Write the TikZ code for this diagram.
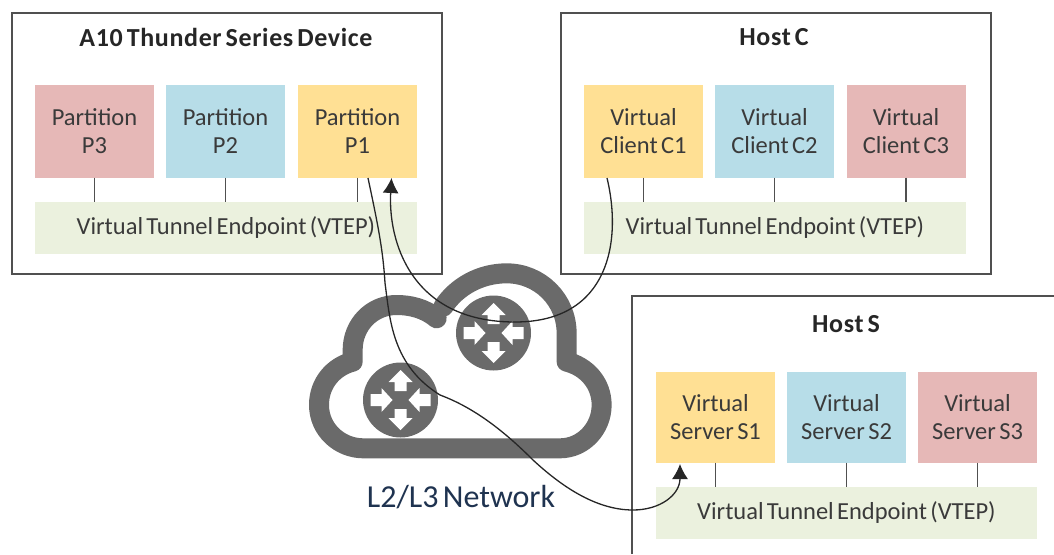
\documentclass[tikz,border=0pt]{standalone}
\usepackage{fontspec}
\usetikzlibrary{arrows.meta}
\setmainfont[WordSpace=0.6]{Carlito}
\definecolor{pinkbox}{HTML}{E6B8B7}
\definecolor{bluebox}{HTML}{B7DDE8}
\definecolor{yellowbox}{HTML}{FFE094}
\definecolor{greenbox}{HTML}{EBF1DE}
\definecolor{txt}{HTML}{3A3A3A}
\definecolor{netgray}{HTML}{6A6A6A}
\definecolor{nettxt}{HTML}{1F3350}
\definecolor{edgegray}{HTML}{505050}
\tikzset{
  tile/.style={minimum width=119pt,minimum height=93pt,inner sep=0pt,align=center,text=txt,font=\fontsize{24.5}{28}\selectfont},
  vtep/.style={minimum height=52pt,inner sep=0pt,text=txt,font=\fontsize{24.5}{28}\selectfont},
  hostbox/.style={draw=edgegray,line width=2pt,minimum width=430pt,minimum height=261pt,inner sep=0pt},
  hosttitle/.style={font=\fontsize{26}{28}\selectfont\bfseries\addfontfeature{LetterSpace=2.5},text=black!85},
  stub/.style={draw=edgegray,line width=1.8pt},
  flow/.style={draw=black!85,line width=1.3pt},
  router/.style={circle,fill=netgray,minimum size=75pt,inner sep=0pt},
}
\newcommand{\routerarrows}[1]{%
  \foreach \a/\off in {90/1,270/1,0/-1,180/-1}{
    \begin{scope}[shift={(#1)},rotate=\a]
      \ifnum\off=1
        \fill[white] (9,-6) -- (18,-6) -- (18,-12) -- (30,0) -- (18,12) -- (18,6) -- (9,6) -- cycle;
      \else
        \fill[white] (30,-6) -- (19,-6) -- (19,-12) -- (8,0) -- (19,12) -- (19,6) -- (30,6) -- cycle;
      \fi
    \end{scope}
  }}
\begin{document}
\begin{tikzpicture}[x=1pt,y=-1pt]
\useasboundingbox (0,0) rectangle (1054,554);
% hosts
\node[hostbox,anchor=north west] (devbox) at (11,12) {};
\node[hostbox,anchor=north west] (hostc) at (560,12) {};
\draw[edgegray,line width=2pt] (632,554) -- (632,296) -- (1054,296);
\node[hosttitle] (t1) at (226,37) {A10 Thunder Series Device};
\node[hosttitle] (t2) at (774,37) {Host C};
\node[hosttitle] (t3) at (846,324) {Host S};
% device
\node[tile,fill=pinkbox] (p3) at (94.5,131) {Partition\\P3};
\node[tile,fill=bluebox] (p2) at (225.5,131) {Partition\\P2};
\node[tile,fill=yellowbox] (p1) at (357.5,131) {Partition\\P1};
\node[vtep,fill=greenbox,minimum width=382pt] (v1) at (226,228) {Virtual Tunnel Endpoint (VTEP)};
% host C
\node[tile,fill=yellowbox] (c1) at (643.5,131) {Virtual\\Client C1};
\node[tile,fill=bluebox] (c2) at (774.5,131) {Virtual\\Client C2};
\node[tile,fill=pinkbox] (c3) at (906,131) {Virtual\\Client C3};
\node[vtep,fill=greenbox,minimum width=382pt] (v2) at (775,228) {Virtual Tunnel Endpoint (VTEP)};
% host S
\node[tile,fill=yellowbox,minimum height=91pt] (s1) at (715.5,417) {Virtual\\Server S1};
\node[tile,fill=bluebox,minimum height=91pt] (s2) at (846.5,417) {Virtual\\Server S2};
\node[tile,fill=pinkbox,minimum height=91pt] (s3) at (977.5,417) {Virtual\\Server S3};
\node[vtep,fill=greenbox,minimum width=381pt] (v3) at (846.5,513) {Virtual Tunnel Endpoint (VTEP)};
% stubs
\foreach \n/\m in {p3/v1,p2/v1,p1/v1,c1/v2,c2/v2,c3/v2,s1/v3,s2/v3,s3/v3}
  \draw[stub] (\n.south) -- (\n.south |- \m.north);
% cloud
\begin{scope}[shift={(300,250)},x=0.3333pt,y=-0.3333pt]
  \draw[netgray,line width=20pt,line cap=round,line join=round]
    (410,205) .. controls (375,175) and (330,165) .. (290,165)
    .. controls (215,165) and (158,225) .. (158,300)
    .. controls (158,315) and (158,325) .. (158,335)
    .. controls (100,350) and (57,400) .. (57,465)
    .. controls (57,540) and (120,595) .. (190,595)
    -- (780,595)
    .. controls (850,595) and (905,535) .. (905,465)
    .. controls (905,400) and (860,350) .. (800,335)
    -- (800,250)
    .. controls (800,150) and (720,70) .. (620,70)
    .. controls (540,70) and (470,110) .. (430,170);
\end{scope}
\node[router] (r1) at (400.5,400) {};
\node[router] (r2) at (493.5,333) {};
\routerarrows{400.5,400}
\routerarrows{493.5,333}
\node[font=\fontsize{32}{36}\selectfont,text=nettxt] (net) at (461,497) {L2/L3 Network};
% flows
\coordinate (p1out) at (368,178);
\coordinate (p1in) at (391.5,178);
\coordinate (c1out) at (607,178);
\coordinate (s1in) at (680,464);
\draw[flow,-{Latex[length=15pt,width=16pt]}] (p1out) .. controls (378,225) and (383,250) .. (385,283)
  .. controls (390,320) and (392,365) .. (440,395)
  .. controls (475,408) and (505,432) .. (533,460)
  .. controls (560,485) and (595,510) .. (633,510)
  .. controls (660,510) and (680,495) .. (s1in);
\draw[flow,-{Latex[length=15pt,width=16pt]}] (c1out) .. controls (622,240) and (610,322) .. (515,322)
  .. controls (410,322) and (388,240) .. (p1in);
\end{tikzpicture}
\end{document}
